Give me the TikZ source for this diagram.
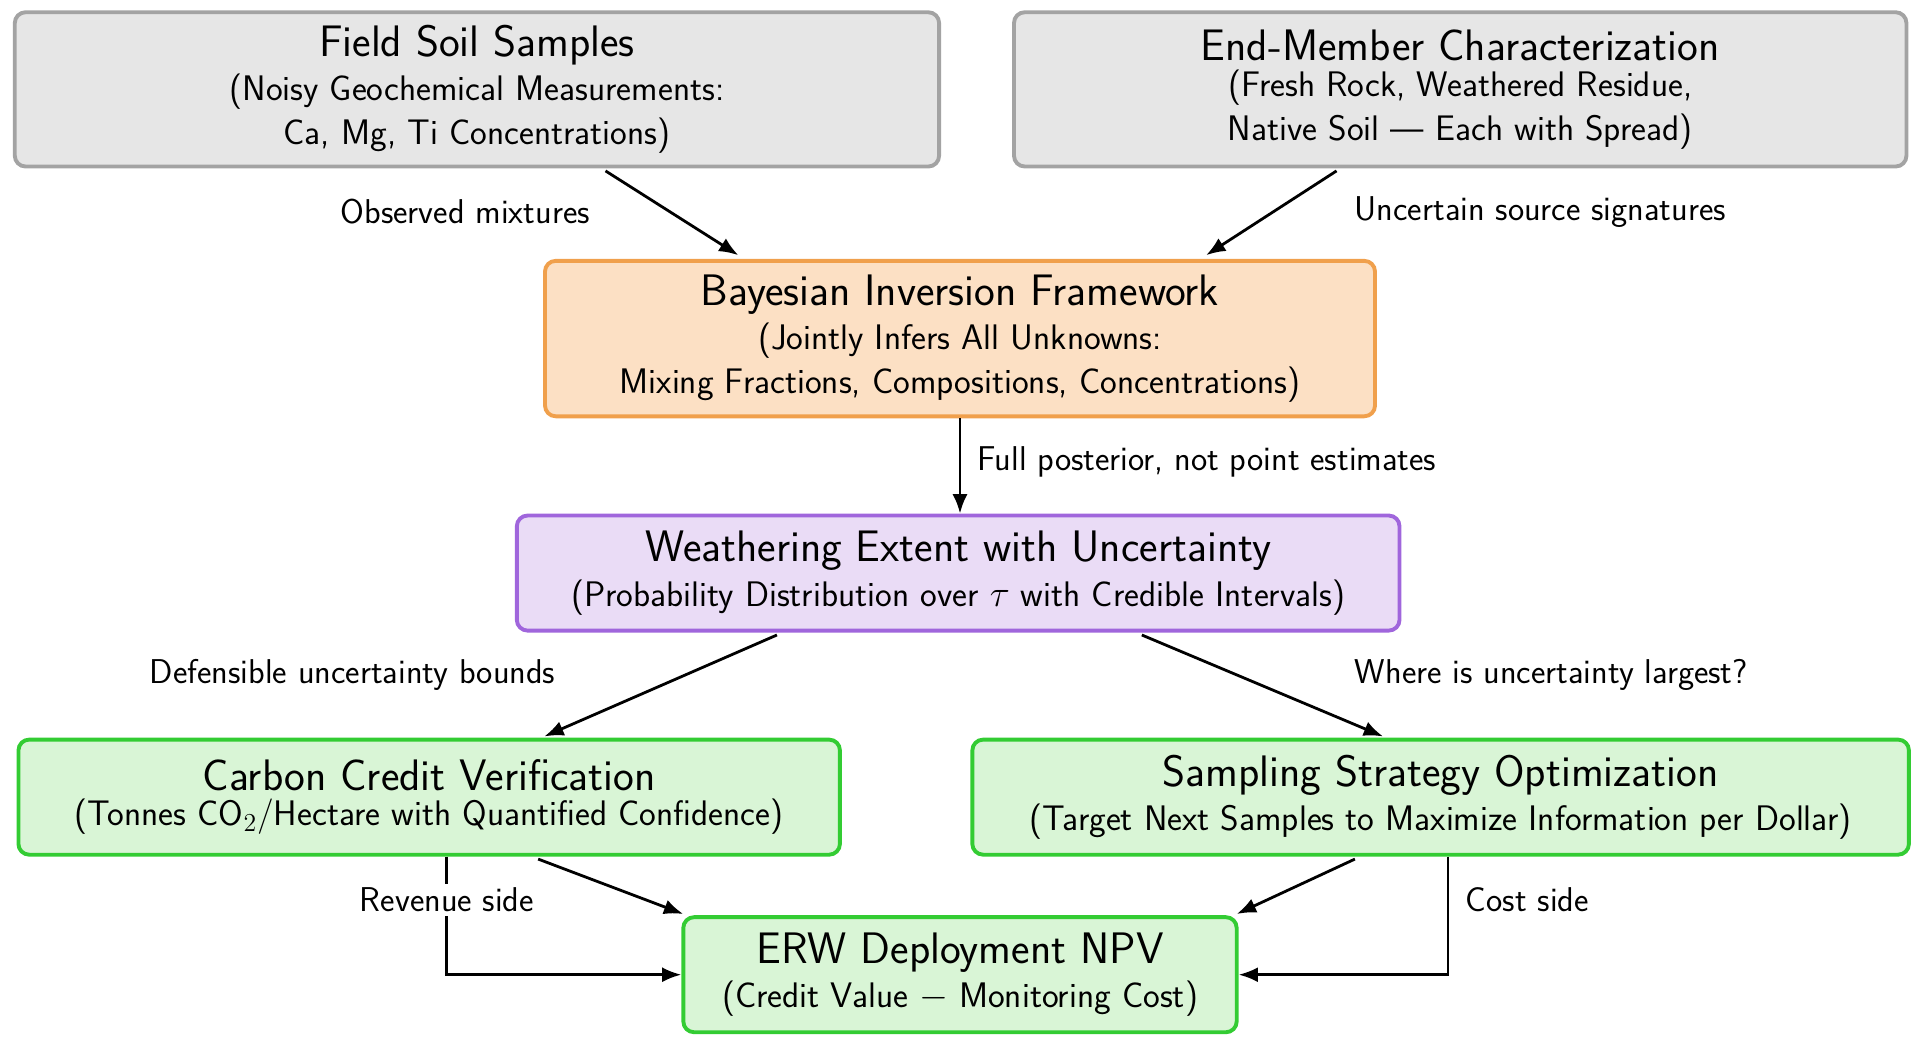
\documentclass[tikz,border=0pt]{standalone}
\usetikzlibrary{calc,arrows.meta}
\definecolor{gfill}{HTML}{E6E6E6}\definecolor{gdraw}{HTML}{A3A3A3}
\definecolor{ofill}{HTML}{FCE0C4}\definecolor{odraw}{HTML}{F0A04C}
\definecolor{pfill}{HTML}{EADCF6}\definecolor{pdraw}{HTML}{A066DC}
\definecolor{nfill}{HTML}{D9F5D6}\definecolor{ndraw}{HTML}{33CC33}
\begin{document}
\begin{tikzpicture}[x=0.02cm,y=-0.02cm,
  box/.style={draw,line width=1.8pt,rounded corners=5pt,align=center,inner sep=0pt,font=\sffamily},
  gray/.style={box,fill=gfill,draw=gdraw},
  orng/.style={box,fill=ofill,draw=odraw},
  purp/.style={box,fill=pfill,draw=pdraw},
  grn/.style={box,fill=nfill,draw=ndraw},
  arr/.style={-{Latex[length=9pt,width=7pt]},line width=1.3pt},
  lbl/.style={font=\sffamily\fontsize{16}{19}\selectfont}]
\useasboundingbox (0,0) rectangle (1568,855);
\newcommand{\ttl}[1]{{\fontsize{20.5}{24}\selectfont #1}\\[3pt]}
\newcommand{\sub}{\fontsize{16.5}{20}\selectfont}
\node[gray,minimum width=15.1cm,minimum height=2.52cm] (fs) at (389.5,73) {\ttl{Field Soil Samples}\sub(Noisy Geochemical Measurements:\\[3pt]\sub Ca, Mg, Ti Concentrations)};
\node[gray,minimum width=14.58cm,minimum height=2.52cm] (em) at (1192.5,73) {\ttl{End-Member Characterization}\sub(Fresh Rock, Weathered Residue,\\[3pt]\sub Native Soil --- Each with Spread)};
\node[orng,minimum width=13.56cm,minimum height=2.54cm] (bi) at (784,276.5) {\ttl{Bayesian Inversion Framework}\sub(Jointly Infers All Unknowns:\\[3pt]\sub Mixing Fractions, Compositions, Concentrations)};
\node[purp,minimum width=14.42cm,minimum height=1.88cm] (we) at (782.5,468) {\ttl{Weathering Extent with Uncertainty}\sub(Probability Distribution over $\tau$ with Credible Intervals)};
\node[grn,minimum width=13.42cm,minimum height=1.88cm] (cc) at (350.5,651) {\ttl{Carbon Credit Verification}\sub(Tonnes CO$_2$/Hectare with Quantified Confidence)};
\node[grn,minimum width=15.3cm,minimum height=1.88cm] (ss) at (1176.5,651) {\ttl{Sampling Strategy Optimization}\sub(Target Next Samples to Maximize Information per Dollar)};
\node[grn,minimum width=9.04cm,minimum height=1.88cm] (erw) at (784,796) {\ttl{ERW Deployment NPV}\sub(Credit Value $-$ Monitoring Cost)};

\draw[arr] ($(fs.south)+(105,2)$) -- ($(bi.north)+(-181,-3)$);
\draw[arr] ($(em.south)+(-101,2)$) -- ($(bi.north)+(201,-3)$);
\draw[arr] (bi.south) -- (we.north -| bi.south);
\draw[arr] ($(we.south)+(-148,2)$) -- ($(cc.north)+(94,-1)$);
\draw[arr] ($(we.south)+(150,2)$) -- ($(ss.north)+(-47,-1)$);
\draw[arr] ($(cc.south)+(89,2)$) -- ($(erw.north)+(-226,-1)$);
\draw[arr] ($(ss.south)+(-70,2)$) -- ($(erw.north)+(226,-1)$);
\draw[arr] ($(cc.south)+(14,0)$) |- (erw.west);
\draw[arr] ($(ss.south)+(6,0)$) |- (erw.east);

\node[lbl] (l1) at (380,173) {Observed mixtures};
\node[lbl] (l2) at (1258,173) {Uncertain source signatures};
\node[lbl,anchor=west] (l3) at (792,377) {Full posterior, not point estimates};
\node[lbl] (l4) at (288,551) {Defensible uncertainty bounds};
\node[lbl] (l5) at (1267,551) {Where is uncertainty largest?};
\node[lbl,fill=white,inner sep=2pt] (l6) at (365,735) {Revenue side};
\node[lbl,anchor=west] (l7) at (1191,735) {Cost side};
\end{tikzpicture}
\end{document}
